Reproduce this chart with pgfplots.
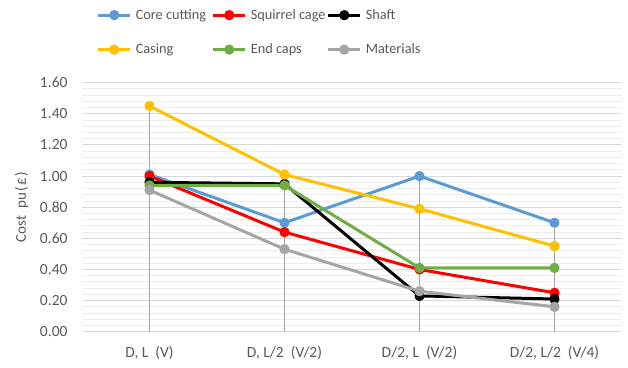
\documentclass[border=0pt]{standalone}
\usepackage{pgfplots}
\pgfplotsset{compat=1.18}
\usepackage{fontspec}
\setmainfont{Carlito}
\definecolor{txt}{HTML}{595959}
\definecolor{gmaj}{HTML}{D9D9D9}
\definecolor{gmin}{HTML}{EDEDED}
\definecolor{cblue}{HTML}{5B9BD5}
\definecolor{cred}{HTML}{FF0000}
\definecolor{cblack}{HTML}{000000}
\definecolor{cgold}{HTML}{FFC000}
\definecolor{cgreen}{HTML}{70AD47}
\definecolor{cgray}{HTML}{A5A5A5}
\definecolor{cdrop}{HTML}{A6A6A6}
\newcommand{\lbl}[1]{\makebox[74pt][l]{#1}}
\begin{document}
\begin{tikzpicture}
\useasboundingbox (0,0) rectangle (628pt,367pt);
\begin{axis}[
  at={(82pt,35.3pt)}, anchor=south west,
  scale only axis, width=540pt, height=249pt,
  xmin=-0.5, xmax=3.5, ymin=0, ymax=1.6,
  xtick={0,1,2,3},
  xticklabels={{D, L\ \ (V)},{D, L/2\ \ (V/2)},{D/2, L\ \ (V/2)},{D/2, L/2\ \ (V/4)}},
  ytick={0,0.2,...,1.6},
  minor y tick num=4,
  ymajorgrids, yminorgrids,
  major grid style={gmaj, line width=0.9pt},
  minor grid style={gmin, line width=0.9pt},
  axis line style={draw=none},
  major tick length=0pt, minor tick length=0pt,
  /pgf/number format/assume math mode=true,
  yticklabel style={/pgf/number format/fixed, /pgf/number format/fixed zerofill, /pgf/number format/precision=2, xshift=-11pt},
  tick label style={font=\fontsize{15.5}{18}\selectfont, text=txt},
  xticklabel style={yshift=-11pt},
  ylabel={Cost\ \ pu\kern1pt(\kern1.5pt£\kern1.5pt)},
  ylabel style={font=\fontsize{15}{18}\selectfont, text=txt,
    at={(axis description cs:-0.112,0.5)}, anchor=center},
  every axis plot/.append style={line width=3pt, mark=*, mark size=3.6pt, line join=round},
  legend columns=3,
  legend cell align=left,
  legend image code/.code={\draw[mark repeat=2,mark phase=2,#1] plot coordinates {(0pt,0pt) (16pt,0pt) (32pt,0pt)};},
  legend style={draw=none, fill=none, at={(0.027,1.303)}, anchor=north west,
    font=\fontsize{14.3}{17}\selectfont, text=txt,
    row sep=19pt, inner sep=0pt,
    /tikz/every odd column/.append style={column sep=2pt}},
]
% drop lines from the highest point of each group down to the axis
\addplot[cdrop, line width=1pt, mark=none, forget plot] coordinates {(0,0) (0,1.45)};
\addplot[cdrop, line width=1pt, mark=none, forget plot] coordinates {(1,0) (1,1.01)};
\addplot[cdrop, line width=1pt, mark=none, forget plot] coordinates {(2,0) (2,1.00)};
\addplot[cdrop, line width=1pt, mark=none, forget plot] coordinates {(3,0) (3,0.70)};

\addplot[cblue]  coordinates {(0,1.01) (1,0.70) (2,1.00) (3,0.70)};
\addlegendentry{\lbl{Core cutting}}
\addplot[cred]   coordinates {(0,1.00) (1,0.64) (2,0.40) (3,0.25)};
\addlegendentry{\lbl{Squirrel cage}}
\addplot[cblack] coordinates {(0,0.96) (1,0.95) (2,0.23) (3,0.21)};
\addlegendentry{\lbl{Shaft}}
\addplot[cgold]  coordinates {(0,1.45) (1,1.01) (2,0.79) (3,0.55)};
\addlegendentry{\lbl{Casing}}
\addplot[cgreen] coordinates {(0,0.94) (1,0.94) (2,0.41) (3,0.41)};
\addlegendentry{\lbl{End caps}}
\addplot[cgray]  coordinates {(0,0.91) (1,0.53) (2,0.26) (3,0.16)};
\addlegendentry{\lbl{Materials}}
\end{axis}
\end{tikzpicture}
\end{document}
